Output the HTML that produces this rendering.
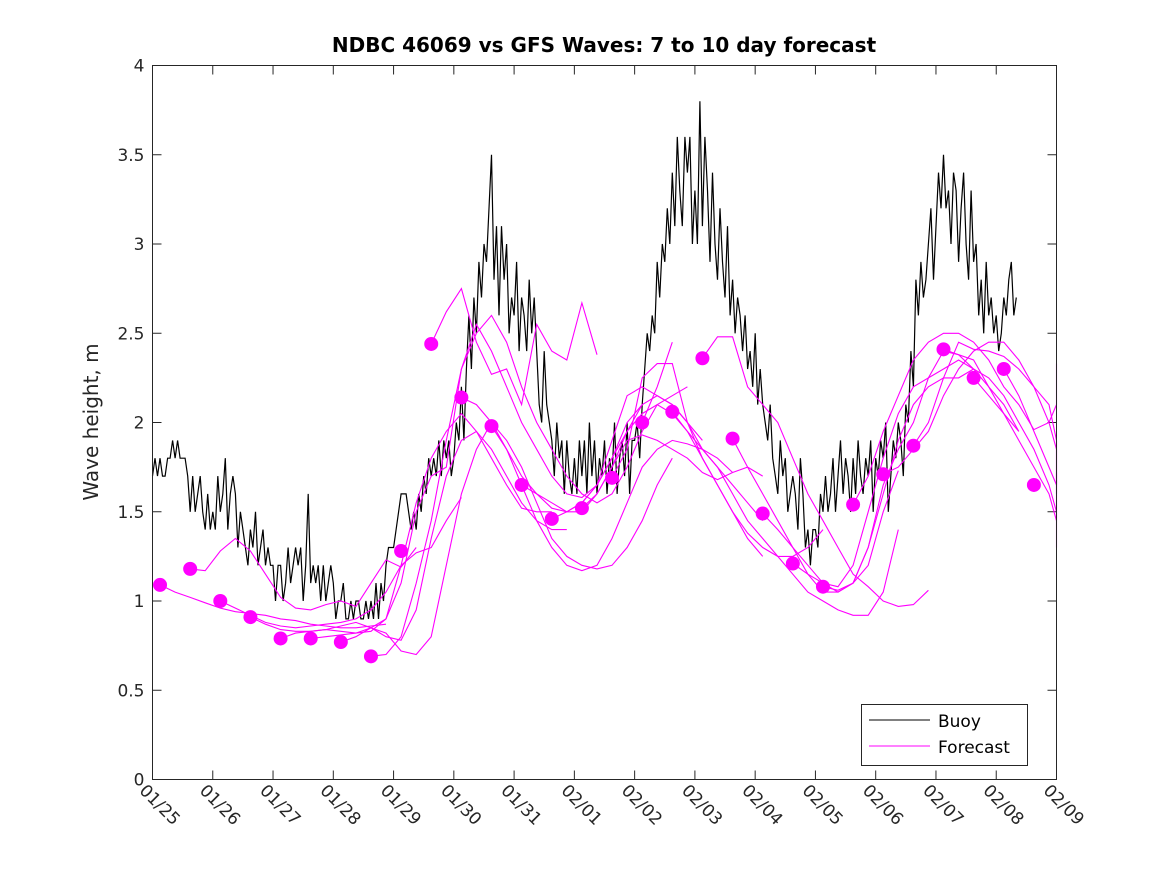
<!DOCTYPE html>
<html><head><meta charset="utf-8"><style>
body{margin:0;background:#fff}
svg{display:block;font-family:"DejaVu Sans","Liberation Sans",sans-serif}
</style></head><body>
<svg id="chart" width="1167" height="875" viewBox="0 0 1167 875">
<rect width="1167" height="875" fill="#fff"/>
<text x="604" y="52" text-anchor="middle" font-size="20" font-weight="bold" fill="#000">NDBC 46069 vs GFS Waves: 7 to 10 day forecast</text>
<text transform="translate(98,422) rotate(-90)" text-anchor="middle" font-size="20" fill="#262626">Wave height, m</text>
<g id="grid"></g>
<g id="series"></g>
<rect x="152.5" y="65.5" width="904" height="714" fill="none" stroke="#262626" stroke-width="1"/>
<g>
<rect x="861.5" y="704.5" width="166" height="61" fill="#fff" stroke="#262626"/>
<line x1="869" y1="720" x2="930" y2="720" stroke="#000"/>
<text x="938" y="727" font-size="17" fill="#000">Buoy</text>
<line x1="869" y1="746" x2="930" y2="746" stroke="#f0f"/>
<text x="938" y="753" font-size="17" fill="#000">Forecast</text>
</g>
</svg>
<script>
const xTickLabels=["01/25","01/26","01/27","01/28","01/29","01/30","01/31","02/01","02/02","02/03","02/04","02/05","02/06","02/07","02/08","02/09"];
const yTicks=[0,0.5,1,1.5,2,2.5,3,3.5,4];
// buoy: hourly values starting day 0
const buoyStep=1/24;
const buoyVals=[
1.7,1.8,1.7,1.8,1.7,1.7,1.8,1.8,1.9,1.8,1.9,1.8,1.8,1.8,1.7,1.5,1.7,1.5,1.6,1.7,1.5,1.4,1.6,1.4,
1.5,1.4,1.7,1.5,1.6,1.8,1.4,1.6,1.7,1.6,1.3,1.5,1.4,1.3,1.2,1.4,1.3,1.5,1.2,1.3,1.4,1.2,1.3,1.2,
1.2,1.0,1.2,1.2,1.0,1.1,1.3,1.1,1.2,1.3,1.2,1.3,1.0,1.2,1.6,1.1,1.2,1.1,1.2,1.0,1.2,1.0,1.1,1.2,
1.1,0.9,1.0,1.0,1.1,0.9,0.9,1.0,0.9,1.0,1.0,0.9,0.9,1.0,0.9,1.0,0.9,1.1,0.9,1.1,1.0,1.2,1.3,1.3,
1.3,1.4,1.5,1.6,1.6,1.6,1.5,1.4,1.5,1.4,1.6,1.5,1.7,1.6,1.8,1.7,1.8,1.7,1.9,1.7,1.9,1.8,1.9,1.7,
1.8,2.0,1.9,2.2,1.9,2.3,2.6,2.3,2.7,2.5,2.9,2.7,3.0,2.9,3.2,3.5,2.8,3.1,2.6,3.1,2.8,3.0,2.5,2.7,
2.6,2.9,2.4,2.7,2.6,2.4,2.8,2.5,2.7,2.4,2.1,2.0,2.4,2.1,2.0,1.9,1.7,2.0,1.8,1.9,1.6,1.9,1.7,1.6,
1.8,1.6,1.9,1.7,1.9,1.6,2.0,1.7,1.9,1.6,1.8,1.7,1.9,1.6,1.8,1.7,2.0,1.6,1.8,1.9,1.7,2.0,1.6,1.9,
1.9,2.0,1.8,2.1,2.3,2.5,2.4,2.6,2.5,2.9,2.7,3.0,2.9,3.2,3.0,3.4,3.1,3.6,3.3,3.1,3.6,3.4,3.6,3.0,
3.3,3.0,3.8,3.1,3.6,3.3,2.9,3.4,3.0,2.8,3.2,2.9,2.7,3.1,2.6,2.8,2.5,2.7,2.6,2.4,2.6,2.3,2.4,2.2,
2.5,2.1,2.3,2.1,2.0,1.9,2.1,1.8,1.7,1.6,1.9,1.7,1.8,1.5,1.6,1.7,1.6,1.4,1.8,1.6,1.3,1.4,1.2,1.4,
1.4,1.3,1.6,1.5,1.7,1.5,1.6,1.8,1.5,1.7,1.9,1.6,1.8,1.7,1.5,1.8,1.6,1.9,1.7,1.6,1.8,1.7,1.9,1.5,
1.8,1.7,1.9,1.8,2.0,1.5,1.7,1.9,1.8,2.0,1.9,1.7,2.1,2.0,2.4,2.2,2.8,2.6,2.9,2.7,2.8,3.0,3.2,2.8,
3.1,3.4,3.2,3.5,3.2,3.3,3.0,3.4,3.3,2.9,3.2,3.4,3.0,2.8,3.3,2.9,3.0,2.6,2.8,2.5,2.9,2.6,2.7,2.5,
2.6,2.4,2.5,2.7,2.6,2.8,2.9,2.6,2.7];
// forecast dots
const dotDays=[0.125,0.625,1.125,1.625,2.125,2.625,3.125,3.625,4.125,4.625,5.125,5.625,6.125,6.625,7.125,7.625,8.125,8.625,9.125,9.625,10.125,10.625,11.125,11.625,12.125,12.625,13.125,13.625,14.125,14.625];
const dotVals=[1.09,1.18,1.0,0.91,0.79,0.79,0.77,0.69,1.28,2.44,2.14,1.98,1.65,1.46,1.52,1.69,2.0,2.06,2.36,1.91,1.49,1.21,1.08,1.54,1.71,1.87,2.41,2.25,2.30,1.65];
// forecast lines: start day + 6-hourly values
const fcStep=0.25;
const fcStarts=[0.125,0.625,1.125,1.625,2.125,2.625,3.125,3.625,4.625,5.125,5.625,6.125,6.625,7.125,7.625,8.125,8.625,9.125,9.625,10.125,10.625,11.125,11.625,12.125,12.625,13.125,13.625,14.125];
const fcVals=[
[1.09,1.05,1.02,0.99,0.96,0.94,0.93,0.92,0.9,0.89,0.87,0.86,0.85,0.85,0.86,0.87],
[1.18,1.17,1.28,1.35,1.28,1.15,1.02,0.96,0.95,0.98,1.0,0.97,1.1,1.23,1.19,1.3],
[1.0,0.96,0.92,0.88,0.86,0.85,0.86,0.87,0.88,0.9,0.95,1.05,1.2,1.27,1.3,1.45,1.58],
[0.91,0.87,0.84,0.83,0.83,0.84,0.83,0.82,0.83,0.9,1.2,1.55,1.8,1.95,2.05,1.95,1.8,1.65,1.52,1.5,1.5],
[0.79,0.82,0.83,0.84,0.86,0.88,0.85,0.8,0.78,0.95,1.35,1.7,1.9,1.95,1.85,1.7,1.55,1.45,1.4,1.4],
[0.79,0.8,0.81,0.82,0.85,0.82,0.72,0.7,0.8,1.2,1.6,1.85,2.0,1.9,1.75,1.55,1.35,1.25,1.2,1.18,1.2,1.3,1.45,1.65,1.8],
[0.77,0.8,0.85,0.9,1.1,1.5,1.7,1.75,2.3,2.55,2.4,2.2,2.0,1.85,1.7,1.6,1.58,1.65,1.8,2.0,2.1],
[0.69,0.7,0.8,1.1,1.45,1.9,2.3,2.5,2.6,2.45,2.2,2.0,1.85,1.7,1.6,1.55,1.6,1.75,1.95,2.1,2.15,2.2],
[2.44,2.62,2.75,2.45,2.27,2.3,2.1,2.55,2.4,2.35,2.67,2.38],
[2.14,2.1,2.0,1.85,1.7,1.6,1.52,1.5,1.55,1.65,1.8,1.95,2.1,2.15,2.1,2.0,1.9],
[1.98,1.85,1.65,1.45,1.3,1.2,1.17,1.2,1.35,1.55,1.75,1.85,1.9,1.88,1.85,1.8,1.72],
[1.65,1.6,1.55,1.5,1.5,1.6,1.75,1.9,1.93,1.9,1.85,1.8,1.72,1.68,1.72,1.75,1.7],
[1.46,1.5,1.55,1.65,1.9,2.15,2.2,2.15,2.1,2.0,1.85,1.75,1.65,1.55,1.45],
[1.52,1.6,1.75,1.95,2.05,2.1,2.05,1.95,1.8,1.65,1.5,1.35,1.25],
[1.69,1.85,2.25,2.33,2.33,2.0,1.8,1.65,1.5,1.38,1.3,1.25,1.25,1.3,1.4],
[2.0,2.2,2.45],
[2.06,1.95,1.85,1.75,1.6,1.45,1.35,1.25,1.15,1.05,1.0,0.95,0.92,0.92,1.05,1.4],
[2.36,2.48,2.48,2.2,2.1,2.0,1.8,1.6,1.45,1.3,1.15,1.08,1.0,0.97,0.98,1.06],
[1.91,1.75,1.6,1.45,1.3,1.15,1.05,1.05,1.1,1.2,1.5,1.73],
[1.49,1.4,1.3,1.2,1.1,1.05,1.1,1.3,1.6,1.9,2.1,2.2,2.25,2.25,2.3],
[1.21,1.15,1.1,1.08,1.2,1.5,1.8,2.05,2.2,2.25,2.3,2.35,2.3,2.2,2.1,1.95],
[1.08,1.06,1.1,1.3,1.65,1.85,2.0,2.25,2.4,2.38,2.35,2.2,2.05,1.95],
[1.54,1.7,1.95,2.15,2.35,2.45,2.5,2.5,2.45,2.35,2.2,2.1,1.96,2.0,2.1,2.33],
[1.71,1.75,1.85,1.95,2.15,2.3,2.4,2.45,2.45,2.35,2.2,2.0,1.85,1.68,1.6],
[1.87,2.0,2.25,2.45,2.41,2.4,2.37,2.3,2.2,2.1,1.9,1.7,1.55,1.5],
[2.41,2.38,2.3,2.25,2.15,2.0,1.85,1.65,1.5,1.45],
[2.25,2.15,2.05,1.9,1.75,1.6,1.45,1.35,1.3],
[2.30,2.15,1.95,1.75,1.65,1.65,1.72]
];
const NS="http://www.w3.org/2000/svg";
const X0=152.5,X1=1056.5,Y0=779.5,Y1=65.5,DMAX=15,VMAX=4;
function xs(d){return X0+(X1-X0)*Math.min(d,DMAX)/DMAX;}
function ys(v){return Y0-(Y0-Y1)*v/VMAX;}
function mk(tag,attrs,parent){const e=document.createElementNS(NS,tag);for(const k in attrs)e.setAttribute(k,attrs[k]);parent.appendChild(e);return e;}
const grid=document.getElementById('grid'),ser=document.getElementById('series');
yTicks.forEach(v=>{
 const y=ys(v);
 const t1=mk('line',{x1:X0,x2:X0+9,y1:y,y2:y,stroke:'#262626'},grid);
 
 
 mk('line',{x1:X1-9,x2:X1,y1:y,y2:y,stroke:'#262626'},grid);
 const t=mk('text',{x:X0-8,y:y+6,'text-anchor':'end','font-size':17,fill:'#262626'},grid);
 t.textContent=String(v);
 
 
});
xTickLabels.forEach((lab,i)=>{
 const x=xs(i);
 const tk=mk('line',{x1:x,x2:x,y1:Y0,y2:Y0-9,stroke:'#262626'},grid);
 
 
 mk('line',{x1:x,x2:x,y1:Y1,y2:Y1+9,stroke:'#262626'},grid);
 const t=mk('text',{transform:`translate(${x-14},${Y0+12}) rotate(45)`,'font-size':17,fill:'#262626'},grid);
 t.textContent=lab;
 
 
});
// buoy (stepped look like reference)
let pts=buoyVals.map((v,i)=>xs(i*buoyStep).toFixed(1)+','+ys(v).toFixed(1)).join(' ');
const bl=mk('polyline',{points:pts,fill:'none',stroke:'#000','stroke-width':1.2},ser);


// forecasts
fcVals.forEach((vals,j)=>{
 const p=vals.map((v,i)=>xs(fcStarts[j]+i*fcStep).toFixed(1)+','+ys(v).toFixed(1)).join(' ');
 const l=mk('polyline',{points:p,fill:'none',stroke:'#f0f','stroke-width':1.1},ser);
 
 
});
dotDays.forEach((d,i)=>{
 const c=mk('circle',{cx:xs(d),cy:ys(dotVals[i]),r:7,fill:'#f0f'},ser);
 
 
});
</script>
</body></html>
